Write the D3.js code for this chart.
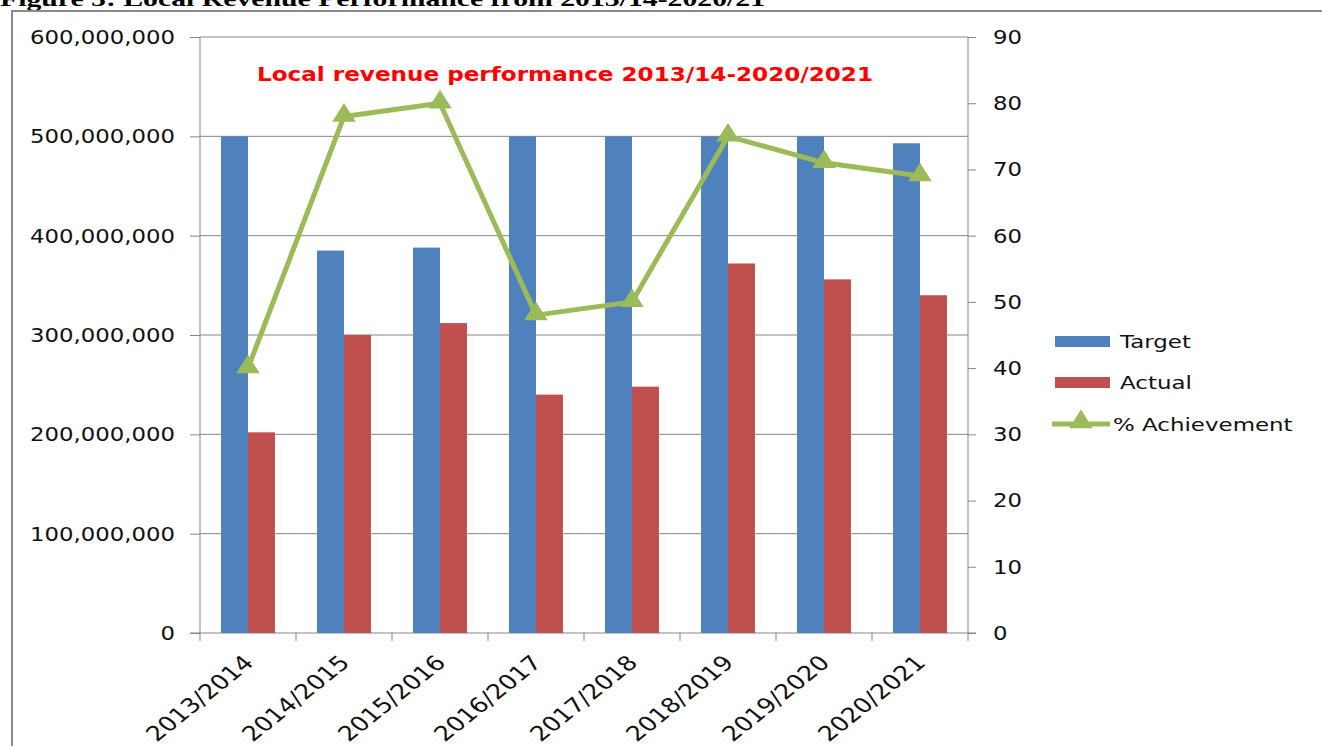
<!DOCTYPE html>
<html>
<head>
<meta charset="utf-8">
<script src="https://cdn.jsdelivr.net/npm/d3@7"></script>
<style>
  body { margin: 0; background: #fff; }
  svg { display: block; }
</style>
</head>
<body>
<script>
// chart data
const years = ["2013/2014","2014/2015","2015/2016","2016/2017","2017/2018","2018/2019","2019/2020","2020/2021"];
const target = [500e6, 385e6, 388e6, 500e6, 500e6, 500e6, 500e6, 493e6];
const actual = [202e6, 300e6, 312e6, 240e6, 248e6, 372e6, 356e6, 340e6];
const achievement = [40, 78, 80, 48, 50, 75, 71, 69];
const leftTicks = [0, 100e6, 200e6, 300e6, 400e6, 500e6, 600e6];
const rightTicks = [0, 10, 20, 30, 40, 50, 60, 70, 80, 90];
const seriesNames = ["Target", "Actual"];

const W = 1322, H = 746;
const pLeft = 200, pRight = 968, pTop = 37, pBottom = 633;
const sx = 1.2; // picture is stretched sideways
const grey = "#878787";
const font = "'DejaVu Sans', Verdana, sans-serif";
const col = { Target: "#4F81BD", Actual: "#C0504D", line: "#9BBB59" };

const svg = d3.select("body").append("svg")
    .attr("width", W)
    .attr("height", H);

// caption (cut off at top in the source) and frame
svg.append("text")
    .attr("x", 0).attr("y", 6)
    .attr("font-family", "'Liberation Serif', serif")
    .attr("font-weight", "bold")
    .attr("font-size", 21)
    .attr("textLength", 765)
    .attr("lengthAdjust", "spacingAndGlyphs")
    .text("Figure 5: Local Revenue Performance from 2013/14-2020/21");

svg.append("rect")
    .attr("x", 12).attr("y", 11)
    .attr("width", 1340).attr("height", 760)
    .attr("fill", "none")
    .attr("stroke", "#8a8a8a")
    .attr("stroke-width", 2);

const x = d3.scaleBand().domain(years).range([pLeft, pRight]);
const xs = d3.scaleBand().domain(seriesNames).range([0, x.bandwidth()]).paddingOuter(0.78);
const y = d3.scaleLinear().domain([0, 600e6]).range([pBottom, pTop]);
const yR = d3.scaleLinear().domain([0, 90]).range([pBottom, pTop]);

// gridlines
svg.append("g").selectAll("line")
    .data(leftTicks.slice(1))
    .enter().append("line")
    .attr("x1", pLeft).attr("x2", pRight)
    .attr("y1", d => y(d)).attr("y2", d => y(d))
    .attr("stroke", grey).attr("stroke-width", 1);

// axes
const gl = svg.append("g").attr("transform", `translate(${pLeft},0)`)
    .call(d3.axisLeft(y).tickValues(leftTicks).tickSize(10).tickFormat(""));
const gr = svg.append("g").attr("transform", `translate(${pRight},0)`)
    .call(d3.axisRight(yR).tickValues(rightTicks).tickSize(8).tickFormat(""));
const gb = svg.append("g").attr("transform", `translate(0,${pBottom})`)
    .call(d3.axisBottom(x).tickSize(0).tickFormat(""));
gb.selectAll(".tick").remove();
gb.append("g").selectAll("line")
    .data(years.concat(["end"]))
    .enter().append("line")
    .attr("x1", (d, i) => pLeft + i * x.step())
    .attr("x2", (d, i) => pLeft + i * x.step())
    .attr("y1", 0).attr("y2", 8);
[gl, gr, gb].forEach(g => {
    g.selectAll("path").attr("stroke", grey).attr("stroke-width", 1);
    g.selectAll("line").attr("stroke", grey).attr("stroke-width", 1);
});
gl.select(".domain").attr("d", `M0,${pTop}V${pBottom}`);
gr.select(".domain").attr("d", `M0,${pTop}V${pBottom}`);
gb.select(".domain").attr("d", `M${pLeft - 10},0H${pRight + 8}`);

// tick labels
const fmt = d3.format(",");
svg.append("g").selectAll("text")
    .data(leftTicks)
    .enter().append("text")
    .attr("transform", d => `translate(175,${y(d)}) scale(${sx},1)`)
    .attr("text-anchor", "end")
    .attr("dy", "0.36em")
    .attr("font-family", font).attr("font-size", 19).attr("fill", "#111")
    .text(d => fmt(d));

svg.append("g").selectAll("text")
    .data(rightTicks)
    .enter().append("text")
    .attr("transform", d => `translate(993,${yR(d)}) scale(${sx},1)`)
    .attr("dy", "0.36em")
    .attr("font-family", font).attr("font-size", 19).attr("fill", "#111")
    .text(d => d);

svg.append("g").selectAll("text")
    .data(years)
    .enter().append("text")
    .attr("transform", d => `translate(${x(d) + x.bandwidth() / 2 + 7},664) scale(1.25,1) rotate(-45)`)
    .attr("text-anchor", "end")
    .attr("font-family", font).attr("font-size", 20.5).attr("fill", "#111")
    .text(d => d);

// bars
const rows = years.map((yr, i) => ({ year: yr, Target: target[i], Actual: actual[i] }));
svg.append("g").selectAll("g")
    .data(rows)
    .enter().append("g")
    .attr("transform", d => `translate(${x(d.year)},0)`)
    .selectAll("rect")
    .data(d => seriesNames.map(k => ({ key: k, value: d[k] })))
    .enter().append("rect")
    .attr("x", d => xs(d.key))
    .attr("width", xs.bandwidth())
    .attr("y", d => y(d.value))
    .attr("height", d => pBottom - y(d.value))
    .attr("fill", d => col[d.key]);

// achievement line
const line = d3.line()
    .x((d, i) => x(years[i]) + x.bandwidth() / 2)
    .y(d => yR(d));
svg.append("path")
    .datum(achievement)
    .attr("d", line)
    .attr("fill", "none")
    .attr("stroke", col.line)
    .attr("stroke-width", 5)
    .attr("stroke-linejoin", "round");

const tri = d3.symbol(d3.symbolTriangle).size(200);
svg.append("g").selectAll("path")
    .data(achievement)
    .enter().append("path")
    .attr("d", tri)
    .attr("transform", (d, i) => `translate(${x(years[i]) + x.bandwidth() / 2},${yR(d) - 1}) scale(1.1,1)`)
    .attr("fill", col.line);

// title
svg.append("text")
    .attr("x", 257).attr("y", 81)
    .attr("font-family", font)
    .attr("font-weight", "bold")
    .attr("font-size", 19)
    .attr("fill", "#FF0000")
    .attr("textLength", 616)
    .attr("lengthAdjust", "spacingAndGlyphs")
    .text("Local revenue performance 2013/14-2020/2021");

// legend
const lg = svg.append("g");
seriesNames.forEach((k, i) => {
    lg.append("rect")
        .attr("x", 1055).attr("y", 336 + i * 41)
        .attr("width", 55).attr("height", 11)
        .attr("fill", col[k]);
    lg.append("text")
        .attr("transform", `translate(1120,${341 + i * 41}) scale(1.24,1)`)
        .attr("dy", "0.36em")
        .attr("font-family", font).attr("font-size", 18.5).attr("fill", "#111")
        .text(k);
});
lg.append("line")
    .attr("x1", 1052).attr("x2", 1110)
    .attr("y1", 424).attr("y2", 424)
    .attr("stroke", col.line).attr("stroke-width", 5);
lg.append("path")
    .attr("d", tri)
    .attr("transform", `translate(1081,422) scale(1.1,1)`)
    .attr("fill", col.line);
lg.append("text")
    .attr("transform", `translate(1113,424) scale(1.24,1)`)
    .attr("dy", "0.36em")
    .attr("font-family", font).attr("font-size", 18.5).attr("fill", "#111")
    .text("% Achievement");
</script>
</body>
</html>
